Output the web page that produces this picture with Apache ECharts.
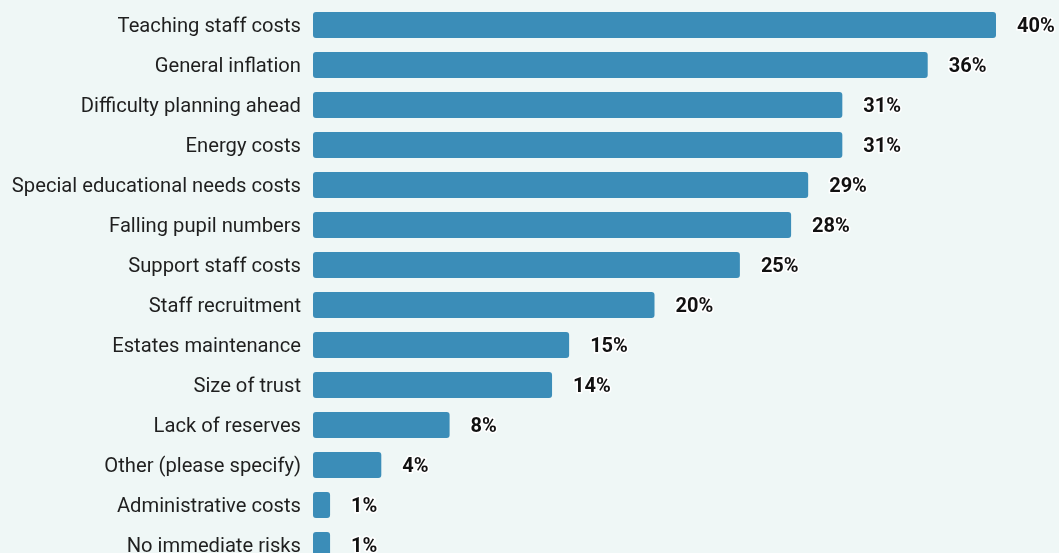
<!DOCTYPE html>
<html>
<head>
<meta charset="utf-8">
<style>
  html, body { margin: 0; padding: 0; background: #eff7f6; }
  #chart { width: 1059px; height: 553px; }
</style>
<script src="https://cdn.jsdelivr.net/npm/echarts@6/dist/echarts.min.js"></script>
</head>
<body>
<div id="chart"></div>
<script>
// Reported financial risks, share of respondents (%)
const categories = [
  'Teaching staff costs',
  'General inflation',
  'Difficulty planning ahead',
  'Energy costs',
  'Special educational needs costs',
  'Falling pupil numbers',
  'Support staff costs',
  'Staff recruitment',
  'Estates maintenance',
  'Size of trust',
  'Lack of reserves',
  'Other (please specify)',
  'Administrative costs',
  'No immediate risks'
];
const shares = [40, 36, 31, 31, 29, 28, 25, 20, 15, 14, 8, 4, 1, 1];

const chart = echarts.init(document.getElementById('chart'), null, { renderer: 'canvas' });
chart.setOption({
  backgroundColor: '#eff7f6',
  animation: false,
  // 14 rows of 40px; the last row runs past the bottom edge
  grid: {
    left: 313, top: 5, width: 683, height: 560,
    containLabel: false,
    outerBoundsMode: 'none'
  },
  xAxis: {
    type: 'value', min: 0, max: 40,
    show: false
  },
  yAxis: {
    type: 'category',
    data: categories,
    inverse: true,
    axisLine: { show: false },
    axisTick: { show: false },
    splitLine: { show: false },
    axisLabel: {
      margin: 12,
      formatter: '{t|{value}}',
      rich: {
        t: {
          fontFamily: 'Roboto',
          fontSize: 20.2,
          color: '#1f1f1f',
          padding: [4, 0, 0, 0]
        }
      }
    }
  },
  series: [{
    type: 'bar',
    data: shares,
    barWidth: 26,
    itemStyle: { color: '#3b8db8', borderRadius: 3 },
    label: {
      show: true,
      position: 'right',
      distance: 21,
      offset: [0, 2],
      formatter: '{c}%',
      fontFamily: 'Roboto',
      fontWeight: 'bold',
      fontSize: 20,
      color: '#111',
      textBorderColor: '#ffffff',
      textBorderWidth: 3
    }
  }]
});
</script>
</body>
</html>
